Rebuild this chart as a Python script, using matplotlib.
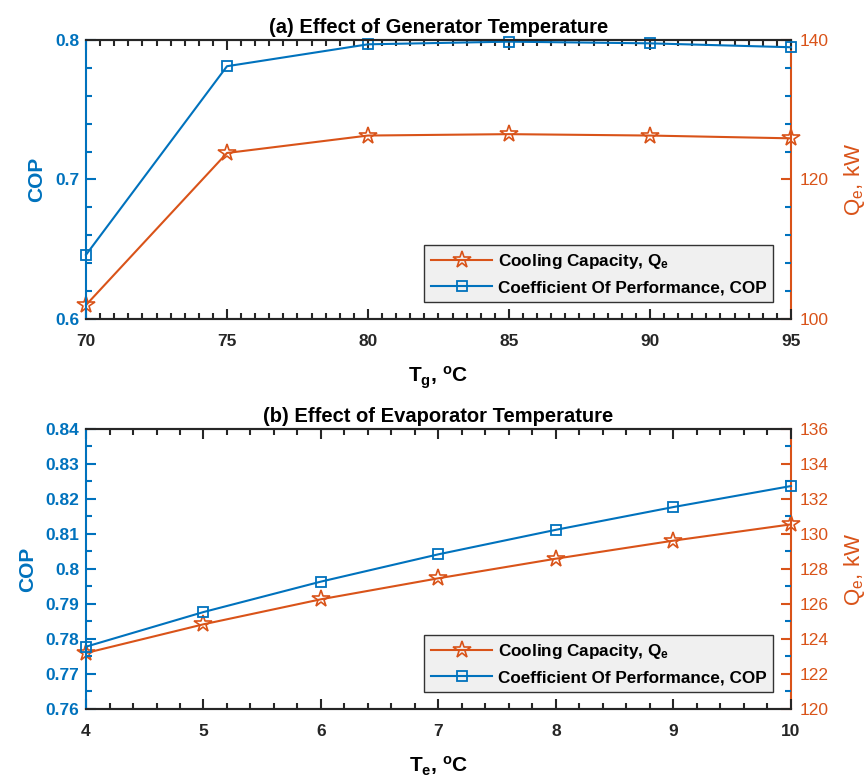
import matplotlib.pyplot as plt
from matplotlib.ticker import MultipleLocator, FormatStrFormatter

plt.rcParams['font.family'] = ['Liberation Sans', 'DejaVu Sans']
plt.rcParams['mathtext.fontset'] = 'custom'
plt.rcParams['mathtext.rm'] = 'Liberation Sans'
plt.rcParams['mathtext.bf'] = 'Liberation Sans:bold'
plt.rcParams['mathtext.it'] = 'Liberation Sans:italic'

BLUE = '#0072BD'
ORANGE = '#D95319'
DARK = '#262626'

# (a) generator temperature
tg = [70, 75, 80, 85, 90, 95]
cop_a = [0.646, 0.7812, 0.7969, 0.7988, 0.7976, 0.7948]
qe_a = [102.0, 123.8, 126.3, 126.5, 126.3, 125.9]

# (b) evaporator temperature
te = [4, 5, 6, 7, 8, 9, 10]
cop_b = [0.7778, 0.7877, 0.7964, 0.8042, 0.8112, 0.8177, 0.8237]
qe_b = [123.2, 124.84, 126.27, 127.47, 128.59, 129.62, 130.55]

fig = plt.figure(figsize=(8.67, 7.78), dpi=100)


def panel(pos, x, cop, qe, title, xlab, xlim, xmaj, xmin,
          ylim, ymaj, ymin, qlim, qmaj):
    ax = fig.add_axes(pos)
    ax2 = ax.twinx()
    l2, = ax2.plot(x, qe, '-', color=ORANGE, lw=1.5, marker='*', ms=13,
                   mfc='none', mec=ORANGE, mew=1.2, clip_on=False,
                   label=r'Cooling Capacity, Q$_\mathbf{e}$')
    l1, = ax.plot(x, cop, '-', color=BLUE, lw=1.5, marker='s', ms=7.5,
                  mfc='none', mec=BLUE, mew=1.3, clip_on=False,
                  label='Coefficient Of Performance, COP')
    ax.set_zorder(ax2.get_zorder() + 1)
    ax.patch.set_visible(False)

    ax.set_xlim(*xlim)
    ax.set_ylim(*ylim)
    ax2.set_ylim(*qlim)
    ax.xaxis.set_major_locator(MultipleLocator(xmaj))
    ax.xaxis.set_minor_locator(MultipleLocator(xmin))
    ax.yaxis.set_major_locator(MultipleLocator(ymaj))
    ax.yaxis.set_minor_locator(MultipleLocator(ymin))
    ax.yaxis.set_major_formatter(FormatStrFormatter('%g'))
    ax2.yaxis.set_major_locator(MultipleLocator(qmaj))

    for a in (ax, ax2):
        for s in a.spines.values():
            s.set_linewidth(1.5)
            s.set_color(DARK)
    ax.spines['left'].set_color(BLUE)
    ax2.spines['right'].set_color(ORANGE)
    ax2.spines['left'].set_visible(False)
    ax.spines['right'].set_visible(False)

    ax.tick_params(axis='x', which='both', direction='in', top=True,
                   colors=DARK, width=1.5)
    ax.tick_params(axis='x', which='major', length=7, pad=11,
                   labelsize=12.5)
    ax.tick_params(axis='x', which='minor', length=4)
    ax.tick_params(axis='y', which='both', direction='in', colors=BLUE,
                   width=1.5, right=False)
    ax.tick_params(axis='y', which='major', length=7, labelsize=12.5, pad=5)
    ax.tick_params(axis='y', which='minor', length=4, right=True)
    ax2.tick_params(axis='y', which='major', direction='in', colors=ORANGE,
                    length=7, width=1.5, labelsize=12.5, pad=6)
    for t in ax.get_xticklabels() + ax.get_yticklabels():
        t.set_fontweight('bold')

    ax.set_title(title, fontsize=14.5, fontweight='bold', pad=5)
    ax.set_xlabel(xlab, fontsize=15, fontweight='bold', labelpad=11)
    ax.set_ylabel('COP', fontsize=15, fontweight='bold', color=BLUE,
                  labelpad=6)
    ax2.set_ylabel(r'Q$_\mathregular{e}$, kW', fontsize=16, color=ORANGE,
                   labelpad=10)

    leg = ax.legend([l2, l1], [l2.get_label(), l1.get_label()],
                    loc='lower right', bbox_to_anchor=(0.9745, 0.061),
                    prop={'weight': 'bold', 'size': 12.3}, frameon=True,
                    fancybox=False, edgecolor='#333333', facecolor='#f0f0f0',
                    framealpha=1, handlelength=3.6, handletextpad=0.3,
                    borderpad=0.4, labelspacing=0.55, borderaxespad=0)
    leg.get_frame().set_linewidth(1.0)


panel([0.0992, 0.59, 0.8131, 0.3586], tg, cop_a, qe_a,
      '(a) Effect of Generator Temperature',
      r'T$_\mathbf{g}$, $^\mathbf{o}$C', (70, 95), 5, 0.5,
      (0.6, 0.8), 0.1, 0.02, (100, 140), 20)
panel([0.0992, 0.0887, 0.8131, 0.3599], te, cop_b, qe_b,
      '(b) Effect of Evaporator Temperature',
      r'T$_\mathbf{e}$, $^\mathbf{o}$C', (4, 10), 1, 0.2,
      (0.76, 0.84), 0.01, 0.005, (120, 136), 2)

fig.savefig('out.png', dpi=100)
